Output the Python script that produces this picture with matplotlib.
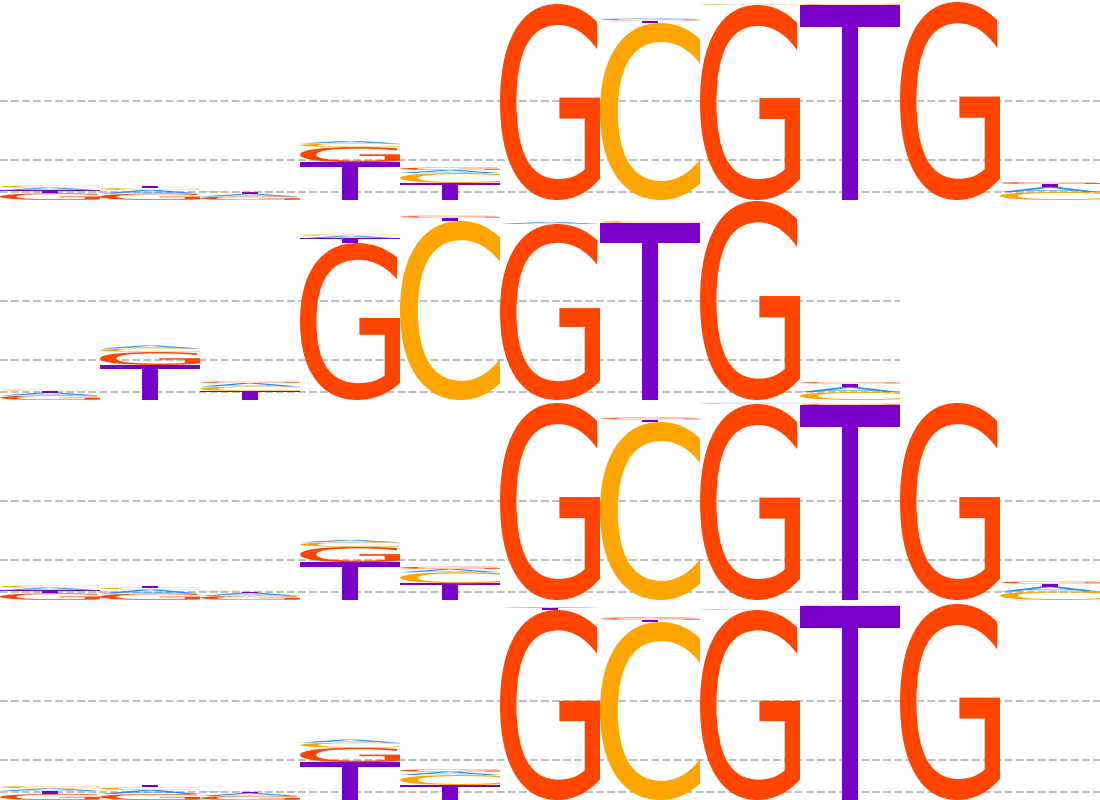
import numpy as np
import matplotlib
matplotlib.use("Agg")
import matplotlib.pyplot as plt
from matplotlib.textpath import TextPath
from matplotlib.font_manager import FontProperties
from matplotlib.patches import PathPatch
from matplotlib.transforms import Affine2D

# letter heights (bits) per position, one set of lists per panel
letters = ['A', 'C', 'G', 'T']

p1_A = [0.027, 0.035, 0.027, 0.025, 0.030, 0.0, 0.008, 0.003, 0.0, 0.0, 0.050]
p1_C = [0.020, 0.022, 0.010, 0.035, 0.100, 0.0, 1.770, 0.008, 0.004, 0.0, 0.080]
p1_G = [0.067, 0.065, 0.035, 0.153, 0.025, 1.960, 0.015, 1.950, 0.006, 1.980, 0.020]
p1_T = [0.030, 0.018, 0.015, 0.377, 0.170, 0.0, 0.025, 0.0, 1.950, 0.0, 0.030]

p2_A = [0.030, 0.030, 0.035, 0.025, 0.005, 0.020, 0.0, 0.0, 0.050]
p2_C = [0.010, 0.035, 0.045, 0.015, 1.790, 0.0, 0.020, 0.0, 0.080]
p2_G = [0.045, 0.130, 0.015, 1.570, 0.017, 1.760, 0.0, 1.990, 0.015]
p2_T = [0.020, 0.350, 0.090, 0.047, 0.033, 0.0, 1.770, 0.0, 0.035]

p3_A = [0.027, 0.040, 0.030, 0.023, 0.033, 0.0, 0.008, 0.003, 0.0, 0.0, 0.050]
p3_C = [0.020, 0.020, 0.008, 0.044, 0.110, 0.0, 1.780, 0.010, 0.003, 0.0, 0.085]
p3_G = [0.067, 0.065, 0.043, 0.156, 0.023, 1.970, 0.015, 1.960, 0.010, 1.970, 0.020]
p3_T = [0.030, 0.013, 0.012, 0.377, 0.167, 0.0, 0.025, 0.0, 1.950, 0.0, 0.030]

p4_A = [0.027, 0.040, 0.030, 0.030, 0.033, 0.010, 0.010, 0.0, 0.0, 0.0, 0.0]
p4_C = [0.023, 0.028, 0.008, 0.050, 0.100, 0.0, 1.780, 0.010, 0.0, 0.0, 0.0]
p4_G = [0.060, 0.060, 0.040, 0.147, 0.024, 1.900, 0.018, 1.900, 0.005, 1.960, 0.0]
p4_T = [0.030, 0.025, 0.010, 0.377, 0.150, 0.020, 0.022, 0.0, 1.940, 0.0, 0.0]

panels = [
    (p1_A, p1_C, p1_G, p1_T),
    (p2_A, p2_C, p2_G, p2_T),
    (p3_A, p3_C, p3_G, p3_T),
    (p4_A, p4_C, p4_G, p4_T),
]

grid_levels = [0.083, 0.403, 0.99]

colors = {'A': '#1E90FF', 'C': '#FFA500', 'G': '#FF4500', 'T': '#7800C8'}
fp = FontProperties(family='DejaVu Sans', weight='normal')


def draw_letter(ax, ch, x, y, w, h, color):
    tp = TextPath((0, 0), ch, size=1, prop=fp)
    bb = tp.get_extents()
    tr = Affine2D().translate(-bb.x0, -bb.y0).scale(w / bb.width, h / bb.height).translate(x, y)
    ax.add_patch(PathPatch(tr.transform_path(tp), facecolor=color, edgecolor='none', lw=0, zorder=2))


fig = plt.figure(figsize=(11, 8), dpi=100)
npos_max = 11

for k, cols in enumerate(panels):
    n = len(cols[0])
    ax = fig.add_axes([0, 1 - (k + 1) * 0.25, n / npos_max, 0.25])
    ax.set_xlim(0, n)
    ax.set_ylim(0, 2)
    ax.axis('off')
    for g in grid_levels:
        ax.axhline(g, color='#c0c0c0', lw=1.5, ls='--', zorder=1)
    for i in range(n):
        vals = [(cols[j][i], letters[j]) for j in range(4)]
        vals.sort(key=lambda t: -t[0])   # big at bottom
        y = 0
        for h, ch in vals:
            if h > 0:
                draw_letter(ax, ch, i, y, 1.0, h, colors[ch])
                y += h

fig.savefig('out.png', dpi=100)
